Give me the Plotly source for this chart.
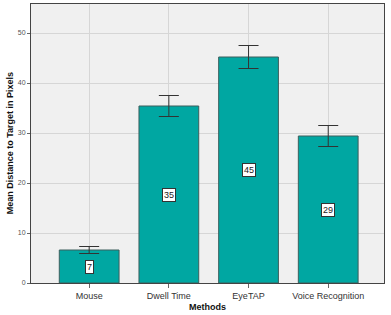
import plotly.graph_objects as go

methods = ["Mouse", "Dwell Time", "EyeTAP", "Voice Recognition"]
means = [6.6, 35.4, 45.2, 29.4]
errors = [0.7, 2.1, 2.3, 2.1]
labels = ["7", "35", "45", "29"]

fig = go.Figure()
fig.add_trace(go.Bar(
    x=methods, y=means, width=0.75,
    marker=dict(color="#00a7a2", line=dict(color="#3d5f5d", width=1)),
    error_y=dict(type="data", array=errors, visible=True, color="#333333", thickness=1, width=10),
    hoverinfo="skip",
))

for m, v, t in zip(methods, means, labels):
    fig.add_annotation(x=m, y=v / 2, text=t, showarrow=False,
                       font=dict(family="Liberation Sans, Arial", size=9, color="#222222"),
                       bgcolor="white", bordercolor="#333333", borderwidth=1, borderpad=1)

fig.add_annotation(text="<b>Methods</b>", xref="paper", yref="paper", x=0.5, y=-0.085,
                   xanchor="center", yanchor="middle", showarrow=False,
                   font=dict(size=9, color="#111111"))
fig.add_annotation(text="<b>Mean Distance to Target in Pixels</b>", xref="paper", yref="paper",
                   x=-0.06, y=0.5, xanchor="center", yanchor="middle", textangle=-90,
                   showarrow=False, font=dict(size=9, color="#111111"))

fig.update_layout(
    width=391, height=315,
    margin=dict(l=31, r=7, t=4, b=32),
    paper_bgcolor="white", plot_bgcolor="#f0f0f0",
    showlegend=False,
    font=dict(family="Liberation Sans, Arial", color="#333333"),
    xaxis=dict(
        range=[-0.73, 3.7], showgrid=True, gridcolor="#d6d6d6", gridwidth=1,
        showline=True, linecolor="#444444", linewidth=1, mirror=True,
        ticks="outside", ticklen=4, tickcolor="#666666",
        tickfont=dict(size=9, color="#333333"), automargin=False,
    ),
    yaxis=dict(
        range=[0, 55.8], dtick=10, showgrid=True, gridcolor="#d6d6d6", gridwidth=1,
        zeroline=False,
        showline=True, linecolor="#444444", linewidth=1, mirror=True,
        ticks="outside", ticklen=3, tickcolor="#666666",
        tickfont=dict(size=7, color="#555555"), automargin=False,
    ),
)

fig.write_html("out.html", config={"displayModeBar": False},
               post_script="document.body.style.margin='0';document.body.style.padding='0';")
